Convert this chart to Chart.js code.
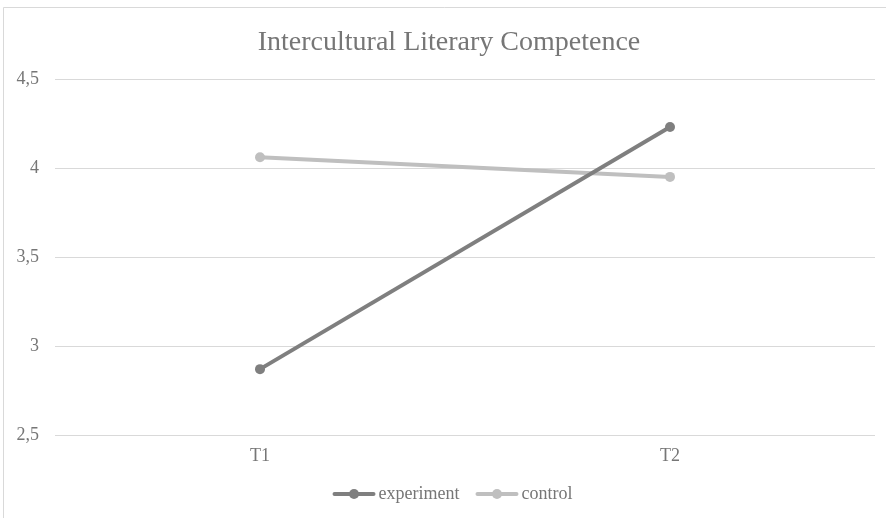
<!DOCTYPE html>
<html>
<head>
<meta charset="utf-8">
<script src="https://cdn.jsdelivr.net/npm/chart.js@4/dist/chart.umd.min.js"></script>
<style>
  html, body { margin: 0; padding: 0; background: #ffffff; }
  #wrap { width: 886px; height: 518px; position: relative; }
</style>
</head>
<body>
<div id="wrap"><canvas id="chart" width="886" height="518"></canvas></div>
<script>
const chartTitle = 'Intercultural Literary Competence';
const categories = ['T1', 'T2'];
const seriesNames = ['experiment', 'control'];
const experiment = [2.87, 4.23];
const control = [4.06, 3.95];
const yTickLabels = ['2,5', '3', '3,5', '4', '4,5'];

const FONT = '"Liberation Serif", "Times New Roman", serif';
const TEXT_GREY = '#767676';
const GRID_GREY = '#d9d9d9';
const COLORS = ['#7f7f7f', '#bfbfbf'];

// Frame, title and legend drawn around the plot area
const decorations = {
  id: 'decorations',
  beforeDraw(chart) {
    const ctx = chart.ctx;
    ctx.save();
    ctx.fillStyle = '#ffffff';
    ctx.fillRect(0, 0, chart.width, chart.height);
    ctx.strokeStyle = GRID_GREY;
    ctx.lineWidth = 1;
    ctx.beginPath();
    ctx.moveTo(3.5, chart.height);
    ctx.lineTo(3.5, 7.5);
    ctx.lineTo(chart.width, 7.5);
    ctx.stroke();
    ctx.restore();
  },
  afterDraw(chart) {
    const ctx = chart.ctx;
    ctx.save();
    // title
    ctx.font = '28px ' + FONT;
    ctx.fillStyle = TEXT_GREY;
    ctx.textAlign = 'center';
    ctx.textBaseline = 'alphabetic';
    ctx.fillText(chartTitle, 449, 50);

    // legend
    ctx.font = '18px ' + FONT;
    const sampleW = 41, textGap = 4, itemGap = 17;
    const items = chart.data.datasets.map(ds => ({
      label: ds.label, color: ds.borderColor, width: ctx.measureText(ds.label).width
    }));
    const total = items.reduce((s, it) => s + sampleW + textGap + it.width, 0) + itemGap * (items.length - 1);
    let x = 453 - total / 2;
    const y = 494;
    items.forEach(it => {
      ctx.strokeStyle = it.color;
      ctx.lineWidth = 4;
      ctx.lineCap = 'round';
      ctx.beginPath();
      ctx.moveTo(x + 1, y);
      ctx.lineTo(x + sampleW - 1, y);
      ctx.stroke();
      ctx.fillStyle = it.color;
      ctx.beginPath();
      ctx.arc(x + sampleW / 2, y, 5, 0, Math.PI * 2);
      ctx.fill();
      ctx.fillStyle = TEXT_GREY;
      ctx.textAlign = 'left';
      ctx.textBaseline = 'middle';
      ctx.fillText(it.label, x + sampleW + textGap, y);
      x += sampleW + textGap + it.width + itemGap;
    });
    ctx.restore();
  }
};

new Chart(document.getElementById('chart'), {
  type: 'line',
  data: {
    labels: categories,
    datasets: [
      {
        label: seriesNames[0],
        data: experiment,
        borderColor: COLORS[0],
        backgroundColor: COLORS[0],
        borderWidth: 4,
        pointRadius: 5,
        pointBorderWidth: 0,
        pointBackgroundColor: COLORS[0],
        tension: 0
      },
      {
        label: seriesNames[1],
        data: control,
        borderColor: COLORS[1],
        backgroundColor: COLORS[1],
        borderWidth: 4,
        pointRadius: 5,
        pointBorderWidth: 0,
        pointBackgroundColor: COLORS[1],
        tension: 0
      }
    ]
  },
  options: {
    responsive: false,
    animation: false,
    devicePixelRatio: 1,
    layout: { padding: { left: 0, top: 79, right: 11, bottom: 43 } },
    plugins: {
      legend: { display: false },
      title: { display: false },
      tooltip: { enabled: false }
    },
    scales: {
      x: {
        type: 'category',
        offset: true,
        grid: { display: false, drawTicks: false },
        border: { display: false },
        ticks: { font: { family: FONT, size: 18 }, color: TEXT_GREY, padding: 10 },
        afterFit(scale) { scale.height = 40; }
      },
      y: {
        min: 2.5,
        max: 4.5,
        grid: { color: GRID_GREY, lineWidth: 1, drawTicks: false },
        border: { display: false },
        ticks: {
          stepSize: 0.5,
          font: { family: FONT, size: 18 },
          color: TEXT_GREY,
          padding: 16,
          callback: (value, index) => yTickLabels[index]
        },
        afterFit(scale) { scale.width = 55; }
      }
    }
  },
  plugins: [decorations]
});
</script>
</body>
</html>
